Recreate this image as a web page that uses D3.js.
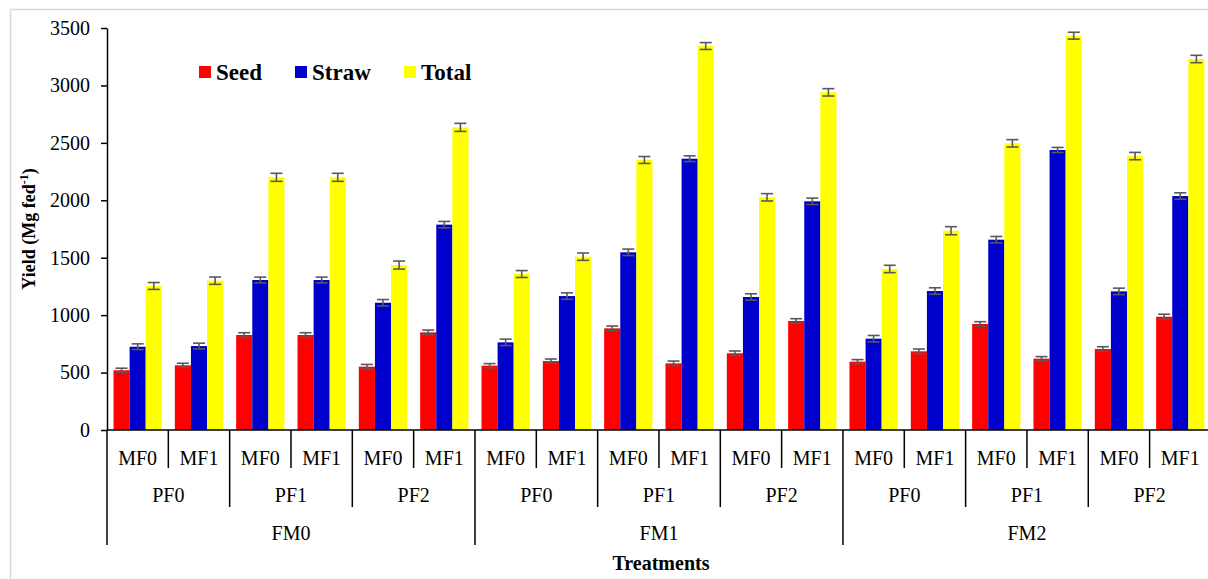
<!DOCTYPE html>
<html><head><meta charset="utf-8">
<script src="https://cdn.jsdelivr.net/npm/d3@7/dist/d3.min.js"></script>
<style>
html,body{margin:0;padding:0;background:#fff;}
svg{display:block;}
svg text{font-family:"Liberation Serif","Times New Roman",serif;}
</style></head>
<body>
<svg id="chart" width="1208" height="579"></svg>
<script>
const fmLabels = ["FM0","FM1","FM2"];
const pfLabels = ["PF0","PF1","PF2"];
const mfLabels = ["MF0","MF1"];
const seriesNames = ["Seed","Straw","Total"];
const seriesColors = ["#ff0000","#0000cc","#ffff00"];
const seed  = [520,563,827,827,551,850,560,600,885,580,668,949,595,685,923,621,705,986];
const straw = [725,731,1306,1306,1108,1788,763,1166,1547,2362,1158,1991,795,1210,1657,2438,1207,2037];
const total = [1254,1300,2200,2200,1436,2635,1358,1509,2351,3343,2026,2940,1402,1735,2496,3433,2385,3230];
const seedErr  = [18,18,20,20,20,20,18,18,20,20,20,20,18,20,20,18,20,22];
const strawErr = [25,25,25,25,28,28,28,28,28,25,28,28,28,28,28,22,28,28];
const totalErr = [30,32,35,35,35,35,30,32,30,30,32,32,32,35,32,30,32,32];
const yTicks = [0,500,1000,1500,2000,2500,3000,3500];

const groups = [];
fmLabels.forEach(fm => pfLabels.forEach(pf => mfLabels.forEach(mf => groups.push(fm+"|"+pf+"|"+mf))));
const values = [seed, straw, total];
const errs = [seedErr, strawErr, totalErr];

const svg = d3.select("#chart");
const x0L = 107, x0R = 107 + 18*61.33;
const yB = 430, yT = 28;

// chart frame
svg.append("rect").attr("x",10.5).attr("y",9.5).attr("width",1220).attr("height",600)
  .attr("fill","none").attr("stroke","#d9d9d9").attr("stroke-width",1.5);

const x0 = d3.scaleBand().domain(groups).range([x0L,x0R]).paddingInner(0).paddingOuter(0);
const x1 = d3.scaleBand().domain(seriesNames).range([0,x0.bandwidth()]).paddingInner(0).paddingOuter(0.405);
const y = d3.scaleLinear().domain([0,3500]).range([yB,yT]);

// bars
seriesNames.forEach((s,si) => {
  svg.append("g").selectAll("rect").data(groups).join("rect")
    .attr("x", g => x0(g)+x1(s))
    .attr("y", (g,i) => y(values[si][i]))
    .attr("width", x1.bandwidth())
    .attr("height", (g,i) => yB - y(values[si][i]))
    .attr("fill", seriesColors[si]);
});
// error bars
seriesNames.forEach((s,si) => {
  const g = svg.append("g").attr("stroke","#595959").attr("stroke-width",1.6);
  groups.forEach((gr,i) => {
    const cx = x0(gr)+x1(s)+x1.bandwidth()/2;
    const v = values[si][i], e = errs[si][i];
    g.append("line").attr("x1",cx).attr("x2",cx).attr("y1",y(v+e)).attr("y2",y(v-e));
    g.append("line").attr("x1",cx-6).attr("x2",cx+6).attr("y1",y(v+e)).attr("y2",y(v+e));
    g.append("line").attr("x1",cx-6).attr("x2",cx+6).attr("y1",y(v-e)).attr("y2",y(v-e));
  });
});

// y axis
const yAxis = d3.axisLeft(y).tickValues(yTicks).tickSize(6).tickSizeOuter(0).tickPadding(11).tickFormat(d3.format("d"));
const ya = svg.append("g").attr("transform",`translate(${x0L},0)`).call(yAxis)
  .attr("font-family","Liberation Serif, serif");
ya.select(".domain").attr("stroke","#000").attr("stroke-width",1.5);
ya.selectAll(".tick line").attr("stroke","#000").attr("stroke-width",1.5);
ya.selectAll(".tick text").attr("font-size",20).attr("fill","#000");

// x axis baseline
svg.append("line").attr("x1",x0L).attr("x2",x0R).attr("y1",yB).attr("y2",yB)
  .attr("stroke","#000").attr("stroke-width",1.5);

// multi-level category axis
const ax = svg.append("g").attr("stroke","#000").attr("stroke-width",1.5);
for (let i=0;i<=18;i++){
  const xx = i<18 ? x0(groups[i]) : x0R;
  let y2 = 468;
  if (i%2===0) y2 = 507;
  if (i%6===0) y2 = 545;
  ax.append("line").attr("x1",xx).attr("x2",xx).attr("y1",yB).attr("y2",y2);
}
const lab = svg.append("g").attr("font-size",20).attr("fill","#000").attr("text-anchor","middle");
groups.forEach(g => {
  lab.append("text").attr("x", x0(g)+x0.bandwidth()/2).attr("y",465).text(g.split("|")[2]);
});
for (let k=0;k<9;k++){
  const xa = x0(groups[2*k]);
  lab.append("text").attr("x", xa + x0.bandwidth()).attr("y",502).text(pfLabels[k%3]);
}
for (let k=0;k<3;k++){
  const xa = x0(groups[6*k]);
  lab.append("text").attr("x", xa + 3*x0.bandwidth()).attr("y",540).text(fmLabels[k]);
}

// axis titles
svg.append("text").attr("x",(x0L+x0R)/2+2).attr("y",570).attr("text-anchor","middle")
  .attr("font-size",20).attr("font-weight","bold").text("Treatments");
const yl = svg.append("text").attr("transform","translate(35,229) rotate(-90)")
  .attr("text-anchor","middle").attr("font-size",18).attr("font-weight","bold");
yl.append("tspan").text("Yield (Mg fed");
yl.append("tspan").attr("font-size",12).attr("dy",-7).text("-1");
yl.append("tspan").attr("dy",7).text(")");

// legend
const legX = [199, 295, 404];
const leg = svg.append("g");
seriesNames.forEach((s,i) => {
  leg.append("rect").attr("x",legX[i]).attr("y",66).attr("width",12).attr("height",12).attr("fill",seriesColors[i]);
  leg.append("text").attr("x",legX[i]+17).attr("y",80).attr("font-size",23).attr("font-weight","bold").text(s);
});
</script>
</body></html>
